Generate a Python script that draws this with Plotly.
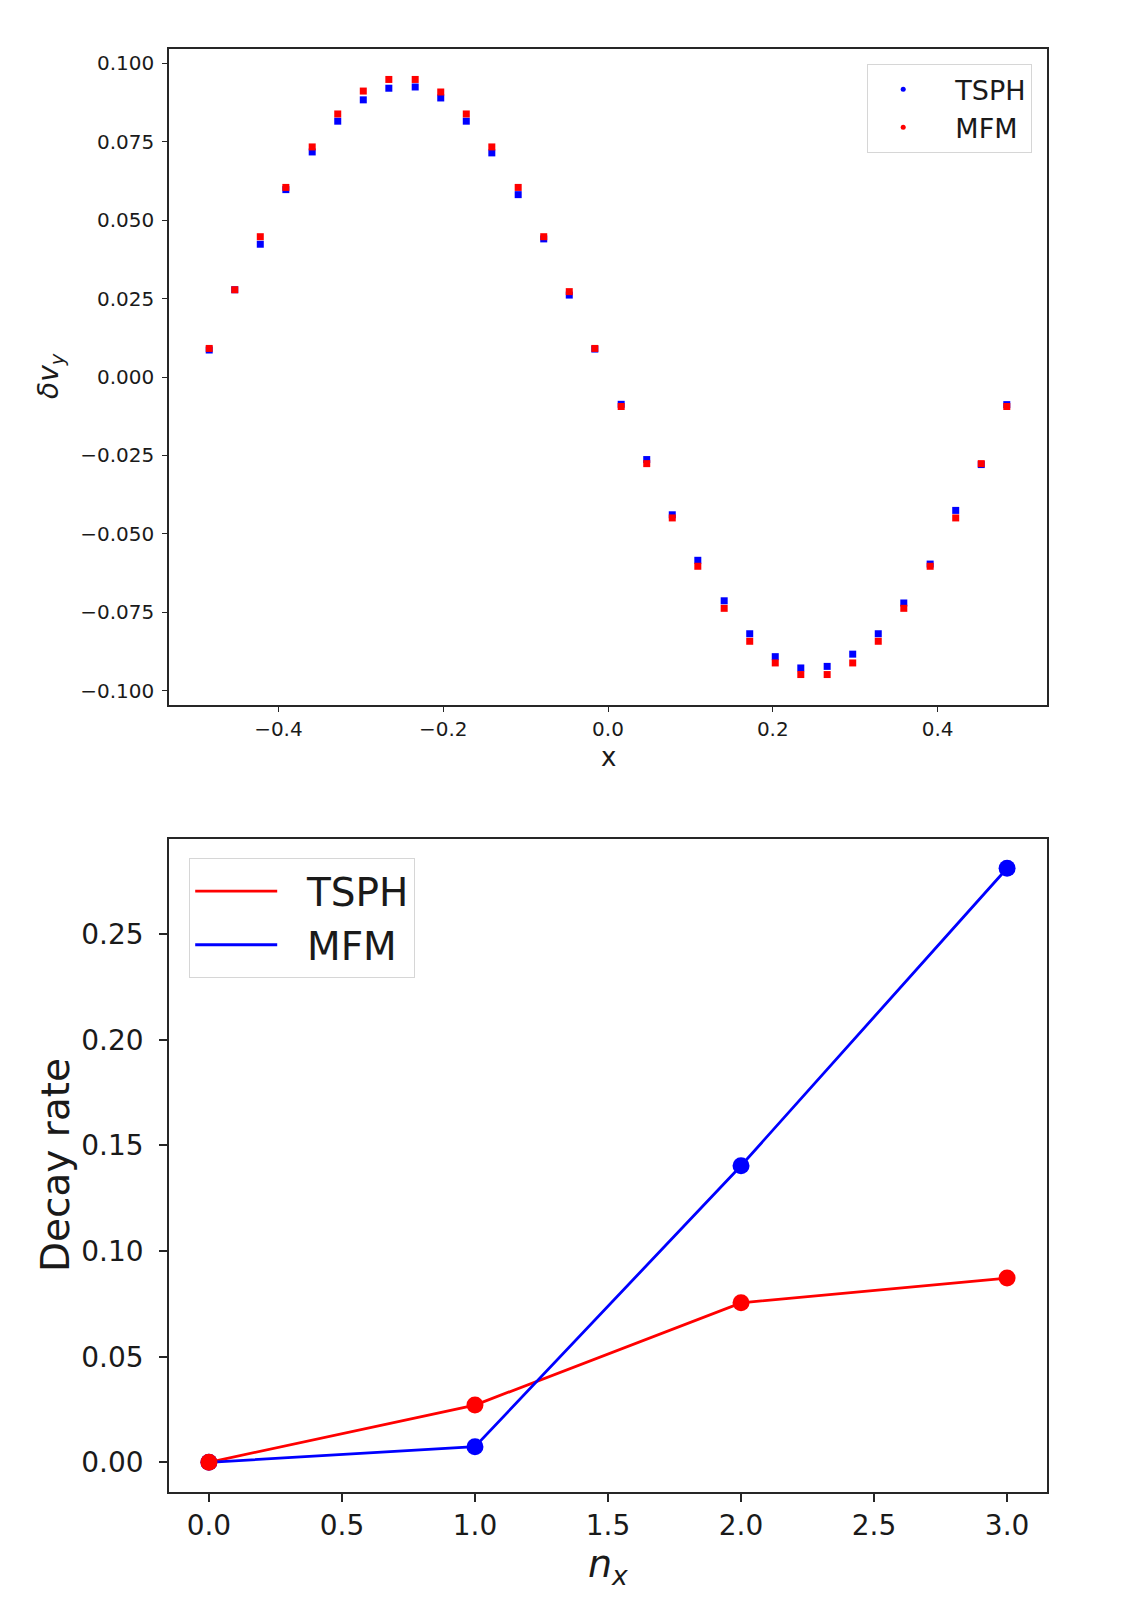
import plotly.graph_objects as go

# ---------------- data: top panel ----------------
x_top = [-0.484, -0.453, -0.422, -0.391, -0.359, -0.328, -0.297, -0.266,
         -0.234, -0.203, -0.172, -0.141, -0.109, -0.078, -0.047, -0.016,
         0.016, 0.047, 0.078, 0.109, 0.141, 0.172, 0.203, 0.234,
         0.266, 0.297, 0.328, 0.359, 0.391, 0.422, 0.453, 0.484]
tsph_top = [0.0086, 0.0278, 0.0423, 0.0597, 0.0717, 0.0815, 0.0883, 0.0920,
            0.0924, 0.0889, 0.0815, 0.0714, 0.0581, 0.0440, 0.0261, 0.0089,
            -0.0087, -0.0263, -0.0439, -0.0584, -0.0713, -0.0818, -0.0891, -0.0927,
            -0.0922, -0.0883, -0.0818, -0.0720, -0.0596, -0.0425, -0.0279, -0.0088]
mfm_top = [0.0091, 0.0278, 0.0447, 0.0604, 0.0733, 0.0838, 0.0911, 0.0948,
           0.0948, 0.0908, 0.0838, 0.0733, 0.0604, 0.0447, 0.0272, 0.0091,
           -0.0094, -0.0276, -0.0449, -0.0603, -0.0737, -0.0842, -0.0911, -0.0948,
           -0.0948, -0.0911, -0.0842, -0.0737, -0.0603, -0.0449, -0.0276, -0.0094]

# ---------------- data: bottom panel ----------------
nx = [0, 1, 2, 3]
tsph_decay = [0.0, 0.0271, 0.0755, 0.0872]
mfm_decay = [0.0, 0.0074, 0.1404, 0.2812]

series_names = ["TSPH", "MFM"]

BLUE = "#0000ff"
RED = "#ff0000"
FONT = "DejaVu Sans"
AX = "#262626"
NB = "\u00a0\u00a0"

fig = go.Figure()

# top panel traces
fig.add_trace(go.Scatter(x=x_top, y=tsph_top, mode="markers", xaxis="x", yaxis="y",
                         marker=dict(symbol="square", size=7, color=BLUE),
                         showlegend=False, hoverinfo="skip"))
fig.add_trace(go.Scatter(x=x_top, y=mfm_top, mode="markers", xaxis="x", yaxis="y",
                         marker=dict(symbol="square", size=7, color=RED),
                         showlegend=False, hoverinfo="skip"))
# legend entries for the top panel (dots)
fig.add_trace(go.Scatter(x=[None], y=[None], mode="markers", xaxis="x", yaxis="y",
                         name=NB + series_names[0],
                         marker=dict(symbol="circle", size=5, color=BLUE),
                         legend="legend"))
fig.add_trace(go.Scatter(x=[None], y=[None], mode="markers", xaxis="x", yaxis="y",
                         name=NB + series_names[1],
                         marker=dict(symbol="circle", size=5, color=RED),
                         legend="legend"))

# bottom panel: lines
fig.add_trace(go.Scatter(x=nx, y=tsph_decay, mode="lines", xaxis="x2", yaxis="y2",
                         name=NB + series_names[0], line=dict(color=RED, width=2.8),
                         legend="legend2"))
fig.add_trace(go.Scatter(x=nx, y=mfm_decay, mode="lines", xaxis="x2", yaxis="y2",
                         name=NB + series_names[1], line=dict(color=BLUE, width=2.8),
                         legend="legend2"))
# bottom panel: markers
fig.add_trace(go.Scatter(x=nx, y=mfm_decay, mode="markers", xaxis="x2", yaxis="y2",
                         marker=dict(size=17, color=BLUE), showlegend=False))
fig.add_trace(go.Scatter(x=nx, y=tsph_decay, mode="markers", xaxis="x2", yaxis="y2",
                         marker=dict(size=17, color=RED), showlegend=False))

W, H = 1121, 1603


def px(v):
    return v / W


def py(v):
    return 1 - v / H


axis_common = dict(showline=True, mirror=True, linecolor=AX, linewidth=1.6,
                   showgrid=False, zeroline=False, ticks="outside", tickcolor=AX,
                   automargin=False)

fig.update_layout(
    width=W, height=H,
    margin=dict(l=0, r=0, t=0, b=0),
    paper_bgcolor="white", plot_bgcolor="white",
    font=dict(family=FONT, color="#1a1a1a"),
    xaxis=dict(domain=[px(169), px(1047)], range=[-0.5328, 0.5328], anchor="y",
               tickvals=[-0.4, -0.2, 0.0, 0.2, 0.4], tickformat=".1f",
               ticklen=5, tickwidth=1.3, tickfont=dict(size=20, family=FONT),
               ticklabelstandoff=0, **axis_common),
    yaxis=dict(domain=[py(705), py(49)], range=[-0.1045, 0.1045], anchor="x",
               tickvals=[-0.1, -0.075, -0.05, -0.025, 0.0, 0.025, 0.05, 0.075, 0.1],
               tickformat=".3f", ticklen=5, tickwidth=1.3,
               tickfont=dict(size=20, family=FONT), ticklabelstandoff=4, **axis_common),
    xaxis2=dict(domain=[px(169), px(1047)], range=[-0.15, 3.15], anchor="y2",
                tickvals=[0, 0.5, 1.0, 1.5, 2.0, 2.5, 3.0], tickformat=".1f",
                ticklen=8, tickwidth=1.5, tickfont=dict(size=28, family=FONT),
                ticklabelstandoff=0, **axis_common),
    yaxis2=dict(domain=[py(1492), py(839)], range=[-0.01405, 0.29505], anchor="x2",
                tickvals=[0, 0.05, 0.1, 0.15, 0.2, 0.25], tickformat=".2f",
                ticklen=8, tickwidth=1.5, tickfont=dict(size=28, family=FONT),
                ticklabelstandoff=10, **axis_common),
    legend=dict(x=px(1032), y=py(64), xanchor="right", yanchor="top",
                bgcolor="rgba(255,255,255,0.8)", bordercolor="#d6d6d6", borderwidth=1.2,
                font=dict(size=27, family=FONT, color="#1a1a1a"), itemwidth=60,
                tracegroupgap=0),
    legend2=dict(x=px(189), y=py(858), xanchor="left", yanchor="top",
                 bgcolor="rgba(255,255,255,0.8)", bordercolor="#d6d6d6", borderwidth=1.2,
                 font=dict(size=39, family=FONT, color="#1a1a1a"), itemwidth=82,
                 tracegroupgap=0),
    annotations=[
        dict(text="x", x=px(608), y=py(757), xref="paper", yref="paper",
             showarrow=False, font=dict(size=26, family=FONT, color="#1a1a1a"),
             xanchor="center", yanchor="middle"),
        dict(text="<i>δv</i><sub><i>y</i></sub>", x=px(50), y=py(376), xref="paper",
             yref="paper", showarrow=False, textangle=-90,
             font=dict(size=28, family=FONT, color="#1a1a1a"),
             xanchor="center", yanchor="middle"),
        dict(text="<i>n</i><sub><i>x</i></sub>", x=px(608), y=py(1566), xref="paper",
             yref="paper", showarrow=False,
             font=dict(size=38, family=FONT, color="#1a1a1a"),
             xanchor="center", yanchor="middle"),
        dict(text="Decay rate", x=px(55), y=py(1165), xref="paper", yref="paper",
             showarrow=False, textangle=-90,
             font=dict(size=39, family=FONT, color="#1a1a1a"),
             xanchor="center", yanchor="middle"),
    ],
)

fig.write_html("out.html")
